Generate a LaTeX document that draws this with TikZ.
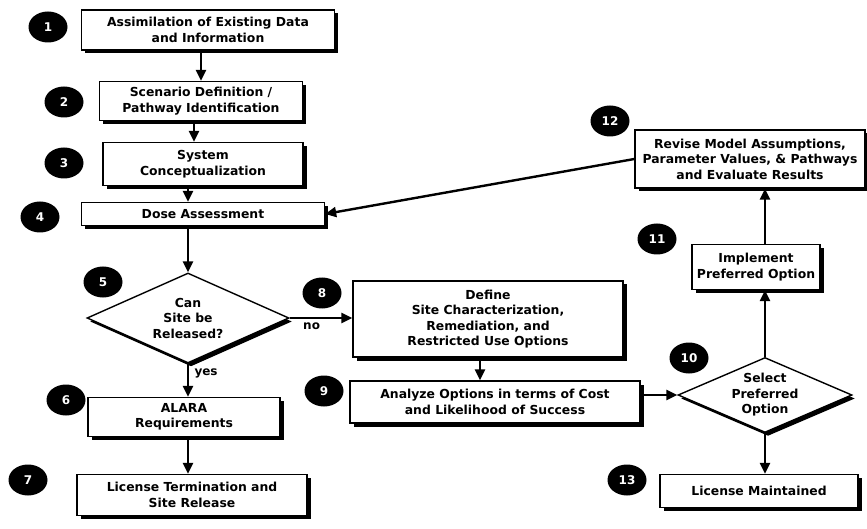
\documentclass[tikz,border=0pt]{standalone}
\usepackage{fontspec}
\usepackage{xcolor}
\usepackage{tikz}
\usetikzlibrary{arrows.meta,shapes.geometric,shadows}
\newfontfamily\chartfont{DejaVu Sans}
\tikzset{
  box/.style={rectangle, draw=black, line width=1.4pt, fill=white, align=center,
    inner sep=2pt, font=\chartfont\bfseries\fontsize{12.4}{15.5}\selectfont,
    drop shadow={shadow xshift=3.5pt, shadow yshift=-3.5pt, opacity=1, fill=black}},
  decision/.style={diamond, draw=black, line width=1.4pt, fill=white, align=center,
    inner sep=0pt, font=\chartfont\bfseries\fontsize{12.4}{15.5}\selectfont,
    drop shadow={shadow xshift=3pt, shadow yshift=-3.5pt, opacity=1, fill=black}},
  num/.style={ellipse, fill=black, minimum width=39pt, minimum height=31pt,
    inner sep=0pt, text=white, font=\chartfont\bfseries\fontsize{12}{13}\selectfont},
  flow/.style={line width=2.4pt, -{Triangle[length=11pt,width=10pt]}},
  lbl/.style={font=\chartfont\bfseries\fontsize{12}{14}\selectfont}
}
\begin{document}
\begin{tikzpicture}[x=1pt, y=-1pt]
  \useasboundingbox (0,0) rectangle (867,529);

  % left column
  \node[box, minimum width=253pt, minimum height=40pt] (b1) at (208,30) {Assimilation of Existing Data\\and Information};
  \node[box, minimum width=203pt, minimum height=39pt] (b2) at (201,101) {Scenario Definition /\\Pathway Identification};
  \node[box, minimum width=200pt, minimum height=43pt] (b3) at (203,164) {System\\Conceptualization};
  \node[box, minimum width=243pt, minimum height=23pt] (b4) at (203,214) {Dose Assessment};
  \node[decision, aspect=2.24, minimum width=202pt, minimum height=90pt] (d5) at (188,318) {Can\\Site be\\Released?};
  \node[box, minimum width=192pt, minimum height=39pt] (b6) at (184,417) {ALARA\\Requirements};
  \node[box, minimum width=230pt, minimum height=41pt] (b7) at (192,495) {License Termination and\\Site Release};

  % middle and right
  \node[box, minimum width=270pt, minimum height=76pt] (b8) at (488,319) {Define\\Site Characterization,\\Remediation, and\\Restricted Use Options};
  \node[box, minimum width=290pt, minimum height=42pt] (b9) at (495,402) {Analyze Options in terms of Cost\\and Likelihood of Success};
  \node[decision, aspect=2.32, minimum width=174pt, minimum height=75pt] (d10) at (765,395) {Select\\Preferred\\Option};
  \node[box, minimum width=128pt, minimum height=45pt] (b11) at (756,267) {Implement\\Preferred Option};
  \node[box, minimum width=230pt, minimum height=58pt] (b12) at (750,159) {Revise Model Assumptions,\\Parameter Values, \& Pathways\\and Evaluate Results};
  \node[box, minimum width=198pt, minimum height=33pt] (b13) at (759,491) {License Maintained};

  % step numbers
  \node[num] (n1) at (48,27) {1};
  \node[num] (n2) at (64,102) {2};
  \node[num] (n3) at (64,163) {3};
  \node[num] (n4) at (40,217) {4};
  \node[num] (n5) at (103,282) {5};
  \node[num] (n6) at (66,400) {6};
  \node[num] (n7) at (28,480) {7};
  \node[num] (n8) at (322,293) {8};
  \node[num] (n9) at (324,391) {9};
  \node[num] (n10) at (689,358) {10};
  \node[num] (n11) at (657,239) {11};
  \node[num] (n12) at (610,121) {12};
  \node[num] (n13) at (627,480) {13};

  \draw[flow] (b2.north |- b1.south) -- (b2.north);
  \draw[flow] ([xshift=-9pt]b3.north |- b2.south) -- ([xshift=-9pt]b3.north);
  \draw[flow] (d5.north |- b3.south) -- (d5.north |- b4.north);
  \draw[flow] (d5.north |- b4.south) -- (d5.north);
  \draw[flow] (d5.south) -- (d5.south |- b6.north) node[lbl, pos=0.3, right, xshift=2pt] {yes};
  \draw[flow] (d5.south |- b6.south) -- (d5.south |- b7.north);
  \draw[flow] (d5.east) -- (d5.east -| b8.west) node[lbl, pos=0.35, below] {no};
  \draw[flow] ([xshift=-8pt]b8.south) -- ([xshift=-8pt]b8.south |- b9.north);
  \draw[flow] (d10.west -| b9.east) -- (d10.west);
  \draw[flow] (d10.north) -- (d10.north |- b11.south);
  \draw[flow] (d10.north |- b11.north) -- (d10.north |- b12.south);
  \draw[flow] (b12.west) -- (b4.east);
  \draw[flow] (d10.south) -- (d10.south |- b13.north);
\end{tikzpicture}
\end{document}
